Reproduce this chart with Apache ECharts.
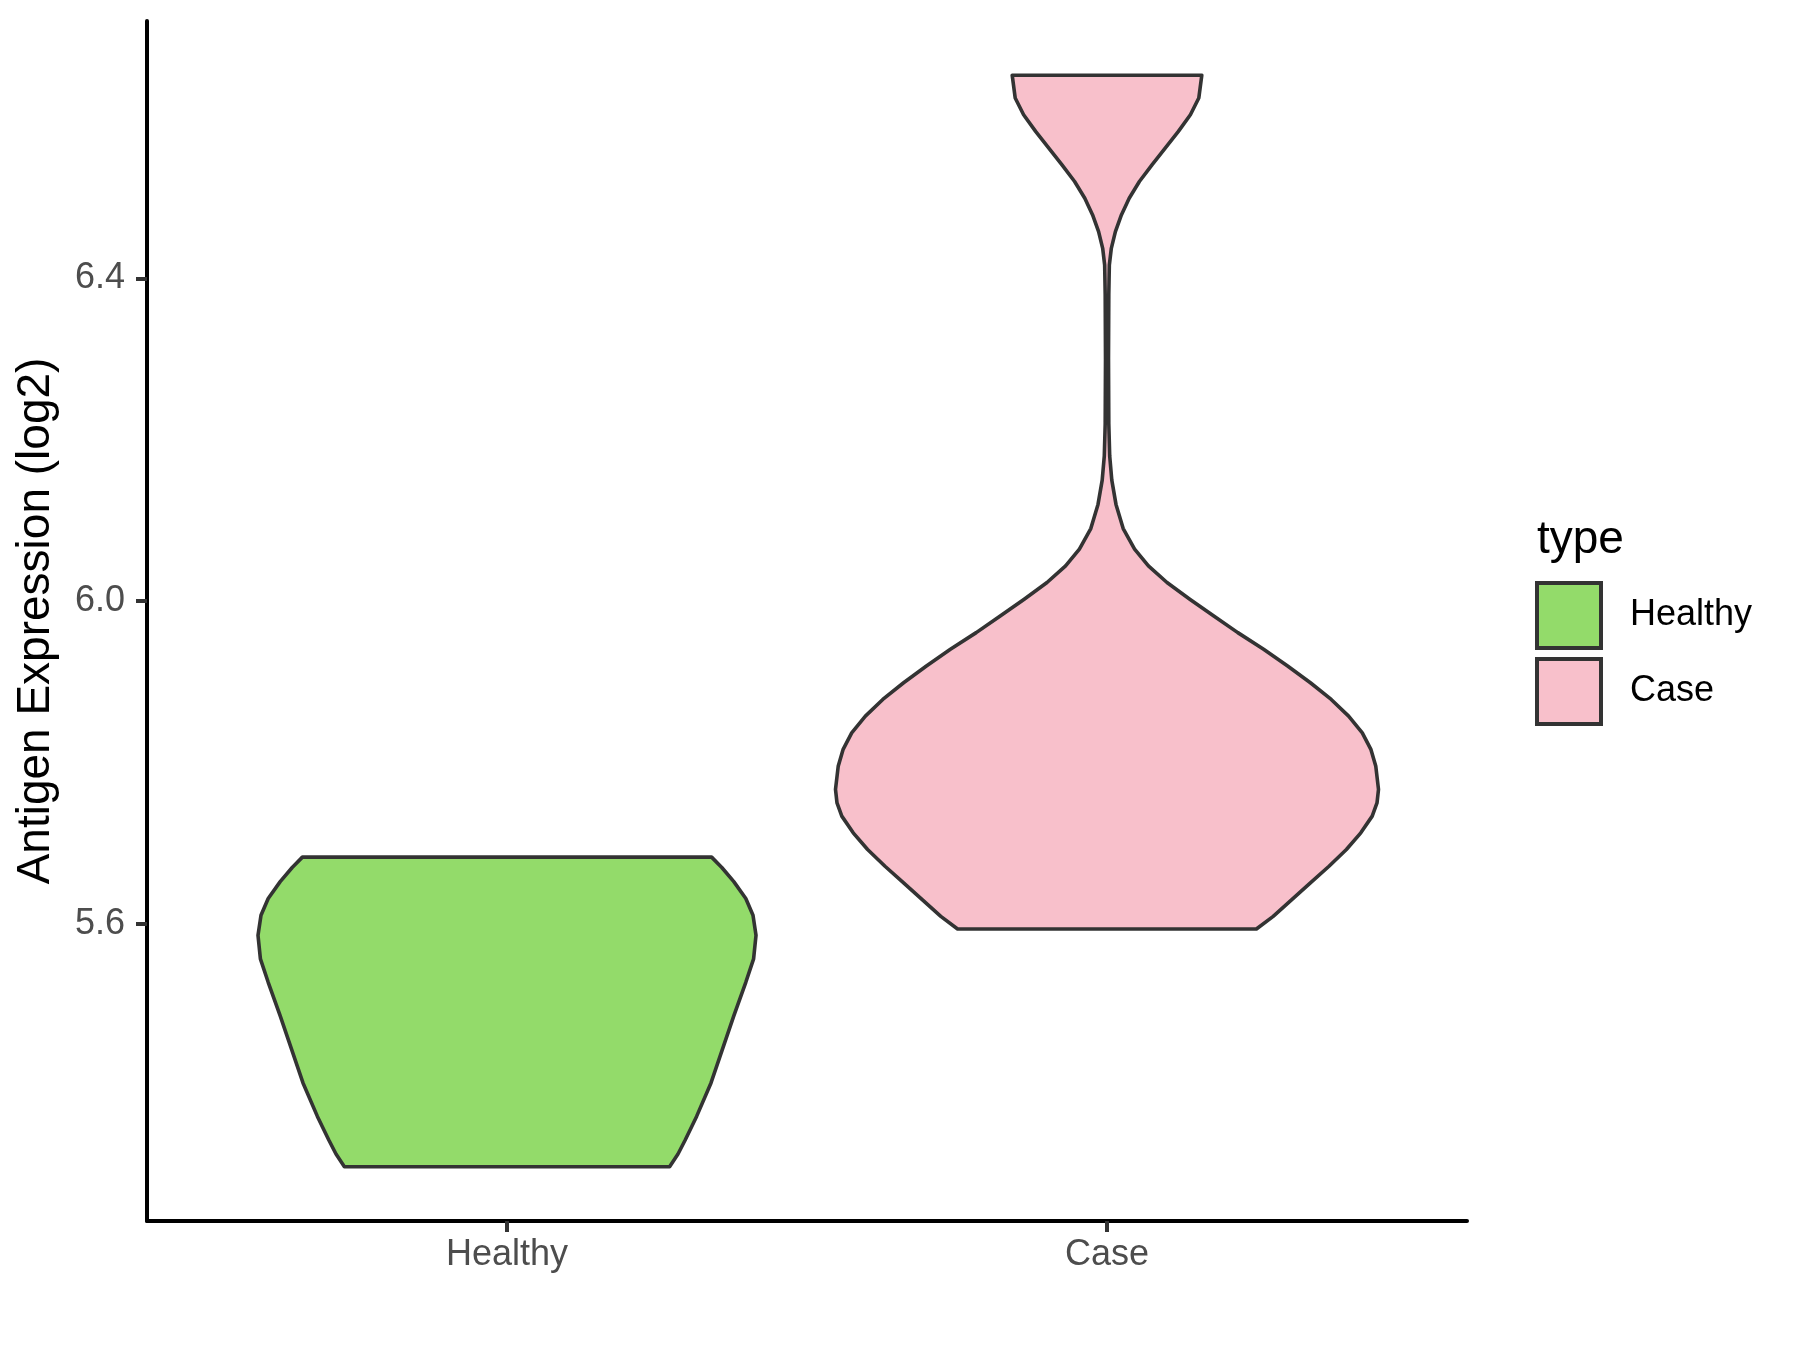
<!DOCTYPE html>
<html>
<head>
<meta charset="utf-8">
<title>Antigen Expression (log2)</title>
<script src="https://cdn.jsdelivr.net/npm/echarts@6/dist/echarts.min.js"></script>
<style>
  html, body { margin: 0; padding: 0; background: #ffffff; }
  #chart { width: 1800px; height: 1350px; }
</style>
</head>
<body>
<div id="chart"></div>
<script>
// groups and ticks
const categories = ["Healthy", "Case"];
const fillColors = ["#93DB6A", "#F8C0CB"];
const yTicks = [5.6, 6.0, 6.4];

// violin outlines: expression value (log2) and half width in category units
const healthyValues = [5.2992, 5.315, 5.3324, 5.3616, 5.4031, 5.4447, 5.4862, 5.5278, 5.5569, 5.586,
  5.6109, 5.6317, 5.6525, 5.67, 5.6829];
const healthyHalfWidth = [0.271, 0.285, 0.297, 0.316, 0.340, 0.359, 0.378, 0.398, 0.411, 0.415,
  0.410, 0.398, 0.378, 0.358, 0.341];

const caseValues = [5.5938, 5.6095, 5.6302, 5.6509, 5.6716, 5.6923, 5.713, 5.7337, 5.75, 5.7669,
  5.7954, 5.8161, 5.8369, 5.8576, 5.8783, 5.899, 5.9197, 5.9404, 5.9611, 5.9817,
  6.0025, 6.0232, 6.0438, 6.0646, 6.09, 6.12, 6.15, 6.18, 6.22, 6.30,
  6.38, 6.4166, 6.4373, 6.458, 6.4787, 6.4994, 6.5201, 6.5408, 6.5615, 6.5822,
  6.6029, 6.6236, 6.6518];
const caseHalfWidth = [0.249, 0.277, 0.308, 0.339, 0.370, 0.399, 0.423, 0.442, 0.450, 0.4525,
  0.448, 0.440, 0.4255, 0.4027, 0.3737, 0.339, 0.301, 0.261, 0.218, 0.178,
  0.138, 0.100, 0.069, 0.046, 0.027, 0.015, 0.008, 0.0045, 0.003, 0.0025,
  0.003, 0.0039, 0.0072, 0.014, 0.024, 0.037, 0.054, 0.075, 0.097, 0.119,
  0.139, 0.153, 0.158];

const fontFamily = '"Liberation Sans", Arial, sans-serif';
const mychart = echarts.init(document.getElementById("chart"));

// polygon through the outline: right side bottom->top, left side top->bottom
const violinItem = (values, halfWidth) => (params, api) => {
  const center = api.value(0);
  const right = [];
  const left = [];
  for (let i = 0; i < values.length; i++) {
    right.push(api.coord([center + halfWidth[i], values[i]]));
    left.unshift(api.coord([center - halfWidth[i], values[i]]));
  }
  return {
    type: "polygon",
    shape: { points: right.concat(left) },
    style: { fill: api.visual("color"), stroke: "#333333", lineWidth: 3.6, lineJoin: "round" },
  };
};

const option = {
  animation: false,
  backgroundColor: "#ffffff",
  grid: { left: 147, top: 21, width: 1320, height: 1200 },
  xAxis: {
    type: "value",
    min: -0.6,
    max: 1.6,
    splitLine: { show: false },
    axisLine: { show: true, onZero: false, lineStyle: { color: "#000000", width: 4 } },
    axisTick: { show: true, customValues: [0, 1], length: 11, lineStyle: { color: "#333333", width: 4 } },
    axisLabel: {
      customValues: [0, 1],
      formatter: (v) => categories[Math.round(v)],
      color: "#4D4D4D",
      fontSize: 36,
      fontFamily: fontFamily,
      margin: 16,
    },
  },
  yAxis: {
    type: "value",
    min: 5.232,
    max: 6.719,
    name: "Antigen Expression (log2)",
    nameLocation: "middle",
    nameGap: 88,
    nameTextStyle: { color: "#000000", fontSize: 46, fontFamily: fontFamily },
    splitLine: { show: false },
    axisLine: { show: true, onZero: false, lineStyle: { color: "#000000", width: 4 } },
    axisTick: { show: true, customValues: yTicks, length: 11, lineStyle: { color: "#333333", width: 4 } },
    axisLabel: {
      customValues: yTicks,
      formatter: (v) => v.toFixed(1),
      color: "#4D4D4D",
      fontSize: 36,
      fontFamily: fontFamily,
      margin: 22,
    },
  },
  legend: {
    orient: "vertical",
    left: 1535,
    top: 581,
    padding: 0,
    icon: "rect",
    itemWidth: 64,
    itemHeight: 65,
    itemGap: 7,
    textStyle: { color: "#000000", fontSize: 36, fontFamily: fontFamily, padding: [0, 0, 0, 24] },
    data: categories.map((name, i) => ({
      name: name,
      itemStyle: { color: fillColors[i], borderColor: "#333333", borderWidth: 4 },
    })),
  },
  graphic: [
    {
      type: "text",
      left: 1537,
      top: 517,
      style: { text: "type", fill: "#000000", font: "46px " + fontFamily },
    },
  ],
  series: [
    {
      name: categories[0],
      type: "custom",
      itemStyle: { color: fillColors[0] },
      data: [[0, healthyValues[0]]],
      renderItem: violinItem(healthyValues, healthyHalfWidth),
    },
    {
      name: categories[1],
      type: "custom",
      itemStyle: { color: fillColors[1] },
      data: [[1, caseValues[0]]],
      renderItem: violinItem(caseValues, caseHalfWidth),
    },
  ],
};
mychart.setOption(option);
</script>
</body>
</html>
